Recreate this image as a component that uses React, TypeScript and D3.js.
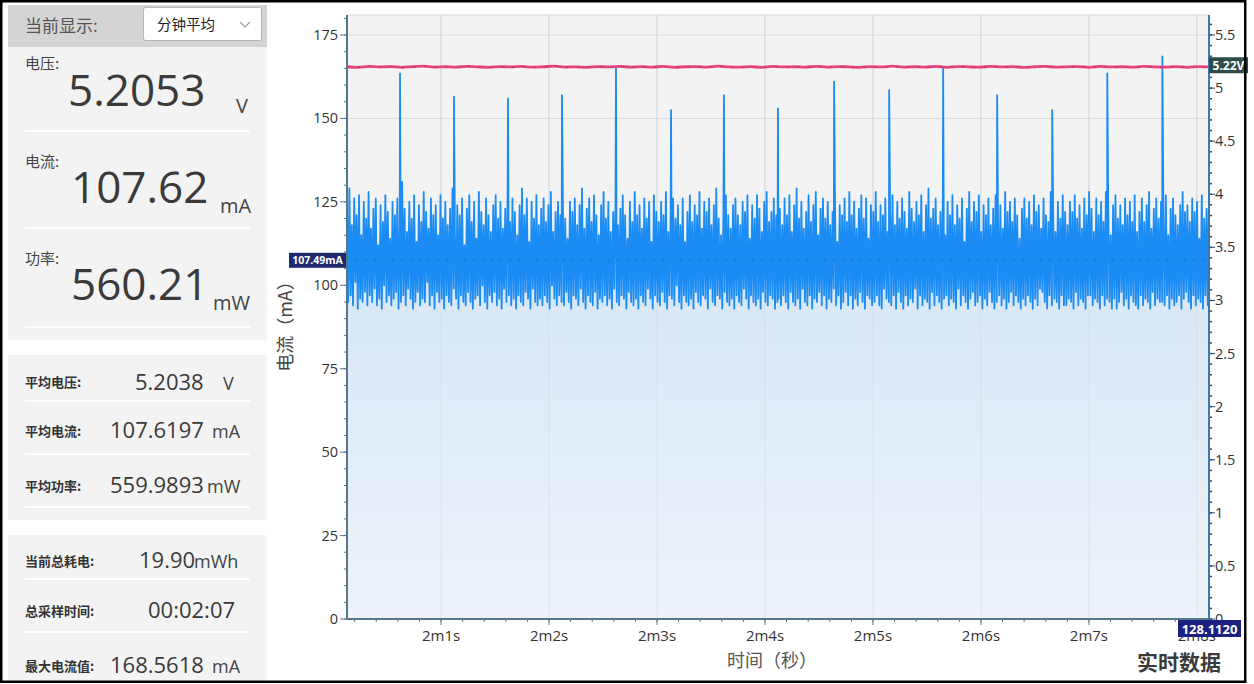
import React from "react";
import * as d3 from "d3";

// ---------- DATA ----------
const timeStart = 120.129;
const timeEnd = 128.112;

const currentNoise: number[] = [
  124, 95, 129, 97, 118, 94, 126, 101, 121, 93, 127, 96, 115, 95, 125, 98, 120, 94, 128, 97,
  117, 95, 123, 99, 126, 94, 112, 96, 124, 93, 119, 100, 127, 95, 122, 97, 114, 94, 125, 96,
  121, 98, 126, 93, 118, 95, 131, 97, 123, 94, 116, 99, 125, 96, 120, 93, 127, 95, 113, 98,
  124, 94, 119, 96, 128, 95, 122, 101, 117, 94, 126, 97, 121, 93, 124, 98, 115, 95, 127, 96,
  120, 93, 125, 97, 118, 95, 123, 94, 129, 99, 116, 96, 124, 93, 121, 97, 126, 95, 112, 94,
  123, 98, 127, 95, 119, 93, 125, 96, 114, 97, 128, 94, 122, 100, 118, 95, 126, 93, 121, 97,
  116, 95, 124, 98, 127, 94, 120, 96, 125, 93, 117, 99, 123, 95, 128, 97, 119, 94, 126, 96,
  122, 93, 115, 97, 124, 95, 129, 94, 121, 98, 126, 96, 113, 93, 125, 99, 120, 95, 127, 94,
  118, 96, 123, 94, 126, 97, 119, 95, 124, 93, 128, 100, 116, 96, 122, 94, 125, 97, 121, 95,
  127, 94, 120, 98, 114, 95, 125, 93, 122, 97, 126, 96, 118, 94, 124, 99, 129, 95, 117, 93,
  123, 97, 126, 95, 119, 94, 127, 98, 121, 93, 115, 96, 124, 95, 128, 97, 120, 94, 125, 96,
  116, 93, 122, 99, 126, 95, 118, 94, 123, 97, 127, 96, 121, 93, 114, 98, 125, 95, 119, 94,
  128, 96, 121, 93, 124, 97, 117, 95, 126, 94, 120, 99, 125, 96, 113, 93, 127, 97, 122, 95,
  119, 94, 125, 98, 121, 95, 128, 93, 116, 97, 123, 96, 126, 94, 120, 100, 124, 95, 118, 93,
  126, 97, 113, 95, 122, 94, 127, 96, 119, 93, 124, 98, 121, 95, 128, 94, 117, 97, 125, 96,
  122, 93, 126, 99, 118, 95, 124, 94, 129, 97, 120, 96, 115, 93, 123, 98, 127, 95, 121, 94,
  117, 96, 124, 93, 126, 97, 121, 95, 118, 94, 125, 99, 122, 96, 127, 93, 114, 97, 124, 95,
  120, 94, 127, 96, 123, 93, 116, 98, 125, 95, 128, 94, 119, 97, 122, 96, 126, 93, 121, 95,
  96, 123, 94, 118, 97, 126, 95, 121, 93, 127, 98, 116, 95, 124, 94, 129, 96, 120, 93, 125,
  99, 117, 95, 122, 94, 127, 97, 119, 93, 124, 96, 128, 95, 115, 98, 123, 94, 126, 97, 120,
  93, 125, 96, 118, 95, 122, 99, 127, 94, 113, 97, 124, 93, 121, 95, 126, 98, 119, 94, 128,
  97, 121, 93, 125, 96, 117, 94, 123, 98, 127, 95, 120, 93, 126, 97, 114, 96, 124, 94, 122,
  95, 128, 97, 119, 94, 124, 93, 121, 99, 126, 96, 116, 95, 123, 94, 127, 97, 118, 93, 125,
  98, 120, 95, 126, 93, 122, 97, 117, 94, 128, 96, 123, 95, 119, 99, 125, 93, 121, 97, 127,
  94, 116, 96, 124, 95, 129, 93, 120, 98, 123, 94, 126, 97, 118, 95, 122, 93, 127, 96, 115,
  97, 125, 94, 121, 96, 127, 95, 118, 93, 124, 99, 120, 94, 126, 97, 113, 95, 123, 93, 128,
  96, 119, 98, 125, 94, 122, 95, 127, 97, 116, 93, 124, 96, 121, 94, 126, 98, 118, 95, 123,
  93, 127, 95, 120, 97, 124, 94, 117, 96, 128, 93, 122, 95, 125, 98, 119, 94, 126, 97, 121,
  95, 114, 93, 123, 96, 126, 94, 120, 97, 125, 95, 118, 93, 127, 96, 122, 94, 124, 99, 117,
  98, 126, 95, 121, 93, 119, 97, 128, 94, 123, 96, 116, 95, 125, 93, 120, 97, 127, 94, 122,
  94, 118, 96, 125, 95, 122, 93, 127, 98, 120, 94, 124, 96, 117, 95, 126, 93, 121, 97, 128,
  97, 123, 94, 116, 96, 126, 95, 121, 93, 125, 97, 119, 94, 128, 96, 122, 95, 115, 93, 124,
  96, 127, 93, 120, 95, 124, 98, 118, 94, 126, 96, 121, 93, 125, 97, 119, 95, 127, 94, 116,
  93, 122, 97, 126, 94, 119, 96, 124, 95, 128, 93, 117, 98, 123, 94, 126, 96, 120, 95, 125,
  95, 120, 94, 127, 97, 115, 93, 123, 96, 126, 94, 121, 95, 118, 97, 124, 93, 128, 96, 122,
  98, 124, 95, 119, 93, 126, 97, 122, 94, 125, 96, 114, 95, 127, 93, 120, 97, 123, 94, 126,
];

const spikeTimes: number[] = [
  120.62, 121.12, 121.62, 122.12, 122.62, 123.13, 123.62, 124.12, 124.64, 125.15, 125.65,
  126.15, 126.66, 127.17, 127.68,
];
const spikeValues: number[] = [
  163.5, 156.5, 156, 157, 165, 152.5, 157, 153, 161, 158.5, 165, 157, 152.5, 163.5, 168.56,
];

const voltageValues: number[] = [
  5.201, 5.196, 5.204, 5.199, 5.203, 5.195, 5.202, 5.206, 5.198, 5.201, 5.197, 5.205, 5.2,
  5.196, 5.203, 5.199, 5.204, 5.197, 5.201, 5.206, 5.198, 5.2, 5.195, 5.203, 5.199, 5.205,
  5.197, 5.202, 5.198, 5.204, 5.196, 5.201, 5.203, 5.197, 5.206, 5.2, 5.198, 5.202, 5.195,
  5.204, 5.199, 5.201, 5.197, 5.205, 5.198, 5.203, 5.2, 5.196, 5.202, 5.199, 5.206, 5.197,
  5.201, 5.198, 5.204, 5.196, 5.203, 5.2, 5.197, 5.205, 5.199, 5.202, 5.195, 5.201, 5.204,
  5.198, 5.2, 5.203, 5.196, 5.205, 5.199, 5.201, 5.197, 5.204, 5.2, 5.198, 5.202, 5.196,
  5.203, 5.199,
];

const xMajorTicks: number[] = [121, 122, 123, 124, 125, 126, 127, 128];
const xTickLabels: string[] = ["2m1s", "2m2s", "2m3s", "2m4s", "2m5s", "2m6s", "2m7s", "2m8s"];
const yMajorTicks: number[] = [0, 25, 50, 75, 100, 125, 150, 175];
const vMajorTicks: number[] = [0, 0.5, 1, 1.5, 2, 2.5, 3, 3.5, 4, 4.5, 5, 5.5];

const currentMarker = 107.49;
const voltageMarker = 5.22;
const timeMarker = "128.1120";

// ---------- LAYOUT ----------
const W = 1254;
const H = 684;
const L = 347;
const R = 1209;
const T = 15;
const B = 619;

const NUM = "'Open Sans', 'Noto Sans', sans-serif";
const CJK = "'Noto Sans CJK SC', 'Noto Sans', sans-serif";

export default function App() {
  const x = d3.scaleLinear().domain([timeStart, timeEnd]).range([L, R]);
  const y = d3.scaleLinear().domain([0, 175 * (B - T) / (B - 35)]).range([B, T]);
  const v = d3.scaleLinear().domain([0, 5.5 * (B - T) / (B - 35)]).range([B, T]);

  const n = currentNoise.length;
  const pts = currentNoise.map((val, i) => ({
    t: timeStart + (i * (timeEnd - timeStart)) / (n - 1),
    v: val,
  }));
  spikeTimes.forEach((t, i) => pts.push({ t, v: spikeValues[i] }));
  pts.sort((a, b) => a.t - b.t);

  const area = d3
    .area<{ t: number; v: number }>()
    .x((d) => x(d.t))
    .y0(B)
    .y1((d) => y(d.v));
  const line = d3
    .line<{ t: number; v: number }>()
    .x((d) => x(d.t))
    .y((d) => y(d.v));

  const vn = voltageValues.length;
  const vLine = d3
    .line<number>()
    .x((_, i) => x(timeStart + (i * (timeEnd - timeStart)) / (vn - 1)))
    .y((d) => v(d))
    .curve(d3.curveMonotoneX);

  const xMinor = d3.range(120.2, 128.1, 0.2);
  const yMinor = d3.range(0, 181, 5);
  const vMinor = d3.range(0, 5.69, 0.1);

  const sep = (yy: number) => (
    <line key={"s" + yy} x1={25} x2={250} y1={yy} y2={yy} stroke="#ffffff" strokeWidth={2} />
  );

  return (
    <div style={{ position: "absolute", left: 0, top: 0 }}>
      <svg width={W} height={H} style={{ display: "block", background: "#fff" }}>
        <defs>
          <linearGradient id="areaFill" gradientUnits="userSpaceOnUse" x1={0} y1={280} x2={0} y2={B}>
            <stop offset="0" stopColor="#d8e7f6" />
            <stop offset="1" stopColor="#edf3f8" />
          </linearGradient>
          <clipPath id="plotClip">
            <rect x={L} y={T} width={R - L} height={B - T} />
          </clipPath>
        </defs>

        {/* ---------- LEFT PANEL ---------- */}
        <rect x={8} y={5} width={259} height={42} fill="#d4d4d4" />
        <rect x={8} y={47} width={259} height={293} fill="#f3f3f3" />
        <rect x={8} y={355} width={259} height={165} fill="#f3f3f3" />
        <rect x={8} y={535} width={259} height={146} fill="#f3f3f3" />
        <text x={25} y={32} fontFamily={CJK} fontSize={17} fill="#555">当前显示:</text>
        <rect x={143.5} y={7.5} width={118} height={33} rx={2} fill="#fff" stroke="#b5b5b5" />
        <text x={157} y={30} fontFamily={CJK} fontSize={14.5} fill="#222">分钟平均</text>
        <polyline points="240,22 245,27 250,22" fill="none" stroke="#9a9a9a" strokeWidth={1.2} />

        <text x={25} y={69} fontFamily={CJK} fontSize={15} fill="#444">电压:</text>
        <text x={68} y={106} fontFamily={NUM} fontSize={44} fill="#3a3a3a">5.2053</text>
        <text x={236} y={113} fontFamily={NUM} fontSize={20} fill="#444">V</text>
        {sep(131)}
        <text x={25} y={167} fontFamily={CJK} fontSize={15} fill="#444">电流:</text>
        <text x={71} y={203} fontFamily={NUM} fontSize={44} fill="#3a3a3a">107.62</text>
        <text x={220} y={213} fontFamily={NUM} fontSize={20} fill="#444">mA</text>
        {sep(228)}
        <text x={25} y={264} fontFamily={CJK} fontSize={15} fill="#444">功率:</text>
        <text x={71} y={300} fontFamily={NUM} fontSize={44} fill="#3a3a3a">560.21</text>
        <text x={213} y={310} fontFamily={NUM} fontSize={20} fill="#444">mW</text>
        {sep(327)}

        <text x={25} y={387} fontFamily={CJK} fontSize={13} fontWeight="bold" fill="#333">平均电压:</text>
        <text x={135} y={390} fontFamily={NUM} fontSize={22} fill="#3a3a3a">5.2038</text>
        <text x={223} y={390} fontFamily={NUM} fontSize={18} fill="#444">V</text>
        {sep(401)}
        <text x={25} y={436} fontFamily={CJK} fontSize={13} fontWeight="bold" fill="#333">平均电流:</text>
        <text x={110} y={438} fontFamily={NUM} fontSize={22} fill="#3a3a3a">107.6197</text>
        <text x={212} y={438} fontFamily={NUM} fontSize={18} fill="#444">mA</text>
        {sep(454)}
        <text x={25} y={491} fontFamily={CJK} fontSize={13} fontWeight="bold" fill="#333">平均功率:</text>
        <text x={110} y={493} fontFamily={NUM} fontSize={22} fill="#3a3a3a">559.9893</text>
        <text x={207} y={493} fontFamily={NUM} fontSize={18} fill="#444">mW</text>
        {sep(507)}

        <text x={25} y={566} fontFamily={CJK} fontSize={13} fontWeight="bold" fill="#333">当前总耗电:</text>
        <text x={139} y={568} fontFamily={NUM} fontSize={22} fill="#3a3a3a">19.90</text>
        <text x={194} y={568} fontFamily={NUM} fontSize={18} fill="#444">mWh</text>
        {sep(579)}
        <text x={25} y={616} fontFamily={CJK} fontSize={13} fontWeight="bold" fill="#333">总采样时间:</text>
        <text x={148} y={618} fontFamily={NUM} fontSize={22} fill="#3a3a3a">00:02:07</text>
        {sep(632)}
        <text x={25} y={671} fontFamily={CJK} fontSize={13} fontWeight="bold" fill="#333">最大电流值:</text>
        <text x={110} y={673} fontFamily={NUM} fontSize={22} fill="#3a3a3a">168.5618</text>
        <text x={212} y={673} fontFamily={NUM} fontSize={18} fill="#444">mA</text>

        {/* ---------- CHART ---------- */}
        <rect x={L} y={T} width={R - L} height={B - T} fill="#f3f3f3" stroke="#dadada" />
        {yMajorTicks.map((t) => (
          <line key={"gy" + t} x1={L} x2={R} y1={y(t)} y2={y(t)} stroke="#dcdcdc" />
        ))}
        {xMajorTicks.map((t) => (
          <line key={"gx" + t} x1={x(t)} x2={x(t)} y1={T} y2={B} stroke="#d6d6d6" />
        ))}
        <g clipPath="url(#plotClip)">
          <path d={area(pts) || ""} fill="url(#areaFill)" />
          {xMajorTicks.map((t) => (
            <line key={"gx2" + t} x1={x(t)} x2={x(t)} y1={T} y2={B} stroke="#d6dde5" strokeOpacity={0.7} />
          ))}
          <path d={line(pts) || ""} fill="none" stroke="#1a8cf4" strokeWidth={1.8} strokeLinejoin="round" />
          <line x1={L} x2={R} y1={y(currentMarker)} y2={y(currentMarker)} stroke="#334" strokeOpacity={0.35} strokeDasharray="2 7" />
          <path d={vLine(voltageValues) || ""} fill="none" stroke="#e8427f" strokeWidth={2.8} />
          <path d={vLine(voltageValues) || ""} fill="none" stroke="#a8285a" strokeWidth={1.2} strokeDasharray="2 9" strokeOpacity={0.7} />
        </g>

        {/* left axis */}
        {yMinor.map((t) => (
          <line key={"ym" + t} x1={L - 3} x2={L} y1={y(t)} y2={y(t)} stroke="#56778a" />
        ))}
        {yMajorTicks.map((t) => (
          <g key={"yt" + t}>
            <line x1={L - 7} x2={L} y1={y(t)} y2={y(t)} stroke="#56778a" />
            <text x={L - 9} y={y(t) + 5} textAnchor="end" fontFamily={NUM} fontSize={14.5} fill="#333">
              {t}
            </text>
          </g>
        ))}
        <line x1={L} x2={L} y1={T} y2={B} stroke="#56778a" strokeWidth={2} />

        {/* right axis */}
        {vMinor.map((t, i) => (
          <line key={"vm" + i} x1={R} x2={R + 3} y1={v(t)} y2={v(t)} stroke="#2a4f70" strokeWidth={1.5} />
        ))}
        {vMajorTicks.map((t) => (
          <g key={"vt" + t}>
            <line x1={R} x2={R + 6} y1={v(t)} y2={v(t)} stroke="#2a4f70" />
            <text x={R + 6} y={v(t) + 5} fontFamily={NUM} fontSize={14.5} fill="#333">
              {String(t)}
            </text>
          </g>
        ))}
        <line x1={R} x2={R} y1={T} y2={B} stroke="#3f78a8" strokeWidth={2} />

        {/* bottom axis */}
        {xMinor.map((t, i) => (
          <line key={"xm" + i} x1={x(t)} x2={x(t)} y1={B} y2={B + 3} stroke="#56778a" />
        ))}
        {xMajorTicks.map((t, i) => (
          <g key={"xt" + t}>
            <line x1={x(t)} x2={x(t)} y1={B} y2={B + 6} stroke="#56778a" />
            <text x={x(t)} y={641} textAnchor="middle" fontFamily={NUM} fontSize={15} fill="#333">
              {xTickLabels[i]}
            </text>
          </g>
        ))}
        <line x1={L} x2={R} y1={B} y2={B} stroke="#56778a" strokeWidth={2} />

        {/* markers */}
        <rect x={289} y={y(currentMarker) - 7.5} width={57} height={15} fill="#1f2a6e" />
        <text x={317.5} y={y(currentMarker) + 4} textAnchor="middle" fontFamily={NUM} fontSize={10.5} fontWeight="bold" fill="#fff">
          {currentMarker.toFixed(2)}mA
        </text>
        <rect x={R} y={v(voltageMarker) - 7.5} width={39} height={16} fill="#2e4d4d" />
        <text x={R + 19.5} y={v(voltageMarker) + 5} textAnchor="middle" fontFamily={NUM} fontSize={12} fontWeight="bold" fill="#fff">
          {voltageMarker.toFixed(2)}V
        </text>
        <rect x={1178} y={620} width={63} height={17} fill="#1c2080" />
        <text x={1209.5} y={633.5} textAnchor="middle" fontFamily={NUM} fontSize={13} fontWeight="bold" fill="#fff">
          {timeMarker}
        </text>

        {/* titles */}
        <text transform={`translate(292, ${322}) rotate(-90)`} textAnchor="middle" fontFamily={CJK} fontSize={18} fill="#444">
          电流（mA）
        </text>
        <text x={772} y={667} textAnchor="middle" fontFamily={CJK} fontSize={18} fill="#555">
          时间（秒）
        </text>
        <text x={1137} y={670} fontFamily={CJK} fontSize={21} fontWeight="bold" fill="#3a3a3a">
          实时数据
        </text>

        {/* outer frame */}
        <rect x={1.25} y={1.25} width={1244} height={680.5} fill="none" stroke="#000" strokeWidth={2.5} />
      </svg>
    </div>
  );
}
